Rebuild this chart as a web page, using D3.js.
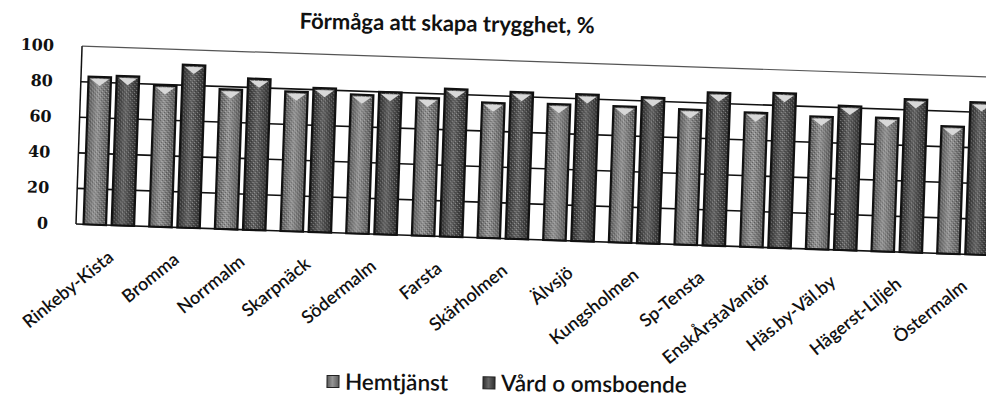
<!DOCTYPE html>
<html>
<head>
<meta charset="utf-8">
<script src="https://cdn.jsdelivr.net/npm/d3@7"></script>
<style>
  body { margin: 0; background: #fff; }
  text { fill: #111; }
</style>
</head>
<body>
<div id="chart"></div>
<script>
var width = 986;
var height = 400;

// chart data
var categories = ["Rinkeby-Kista", "Bromma", "Norrmalm", "Skarpnäck", "Södermalm", "Farsta", "Skärholmen",
  "Älvsjö", "Kungsholmen", "Sp-Tensta", "EnskÅrstaVantör", "Häs.by-Väl.by", "Hägerst-Liljeh", "Östermalm"];
var hemtjanst = [83, 79.5, 78.5, 78.5, 78, 77.5, 76, 76.5, 76.5, 76, 75.5, 74.5, 75, 71.5];
var vard = [84, 91.5, 85, 81, 80, 83, 82.5, 82.5, 82, 86, 87, 81, 86, 85.5];
var seriesNames = ["Hemtjänst", "Vård o omsboende"];
var yTicks = [0, 20, 40, 60, 80, 100];

var title = "Förmåga att skapa trygghet, %";

// plot frame (before the slight scan tilt)
var plotLeft = 76, plotBase = 224, plotTop = 46;
var step = 65.7;

var svg = d3.select("#chart")
  .append("svg")
  .attr("width", width)
  .attr("height", height);

var defs = svg.append("defs");

// bar fills: gray gradients, lighter for Hemtjänst
function barGradient(id, edge, mid) {
  var g = defs.append("linearGradient")
    .attr("id", id)
    .attr("x1", "0%").attr("x2", "100%")
    .attr("y1", "0%").attr("y2", "0%");
  g.append("stop").attr("offset", "0%").attr("stop-color", edge);
  g.append("stop").attr("offset", "45%").attr("stop-color", mid);
  g.append("stop").attr("offset", "100%").attr("stop-color", edge);
}
barGradient("g0", "#5a5a5a", "#959595");
barGradient("g1", "#2e2e2e", "#666");

// scan speckle
var speck = defs.append("pattern")
  .attr("id", "speck")
  .attr("width", 4).attr("height", 4)
  .attr("patternUnits", "userSpaceOnUse");
speck.append("rect").attr("x", 0).attr("y", 0).attr("width", 1).attr("height", 1).attr("fill", "#fff");
speck.append("rect").attr("x", 2).attr("y", 2).attr("width", 1).attr("height", 1).attr("fill", "#fff");
speck.append("rect").attr("x", 1).attr("y", 3).attr("width", 1).attr("height", 1).attr("fill", "#000");
speck.append("rect").attr("x", 3).attr("y", 1).attr("width", 1).attr("height", 1).attr("fill", "#000");

// scales
var x0 = d3.scaleBand()
  .domain(categories)
  .range([plotLeft, plotLeft + step * categories.length])
  .paddingInner(0.23)
  .paddingOuter(0.115);

var x1 = d3.scaleBand()
  .domain([0, 1])
  .range([0, x0.bandwidth()])
  .paddingInner(0.2);

var y = d3.scaleLinear()
  .domain([0, 100])
  .range([plotBase, plotTop]);

// title
svg.append("text")
  .attr("x", 447)
  .attr("y", 31)
  .attr("text-anchor", "middle")
  .attr("transform", "rotate(0.9,447,31)")
  .style("font-family", "Lato")
  .style("font-weight", "bold")
  .style("font-size", "22px")
  .text(title);

// everything in the plot is tilted a little, like the scanned page
var plot = svg.append("g")
  .attr("transform", "rotate(1.95," + plotLeft + "," + plotBase + ")");

// gridlines
plot.selectAll(".grid")
  .data(yTicks)
  .enter()
  .append("line")
  .attr("class", "grid")
  .attr("x1", plotLeft)
  .attr("x2", plotLeft + step * categories.length + 20)
  .attr("y1", function(d) { return y(d); })
  .attr("y2", function(d) { return y(d); })
  .style("stroke", function(d) { return d == 100 ? "#555" : "#111"; })
  .style("stroke-width", function(d) { return d == 100 ? 1.2 : 1.6; });

// left axis line
plot.append("line")
  .attr("x1", plotLeft).attr("x2", plotLeft)
  .attr("y1", y(100)).attr("y2", y(0))
  .style("stroke", "#111")
  .style("stroke-width", 1.5);

// y labels
plot.selectAll(".ylab")
  .data(yTicks)
  .enter()
  .append("text")
  .attr("class", "ylab")
  .attr("x", plotLeft - 28)
  .attr("y", function(d) { return y(d); })
  .attr("dy", "0.36em")
  .attr("text-anchor", "end")
  .style("font-family", "DejaVu Serif")
  .style("font-weight", "bold")
  .style("font-size", "16px")
  .text(function(d) { return d; });

// bars
var series = [hemtjanst, vard];
var groups = plot.selectAll(".cat")
  .data(categories)
  .enter()
  .append("g")
  .attr("class", "cat")
  .attr("transform", function(d) { return "translate(" + x0(d) + ",0)"; });

var bars = groups.selectAll(".bar")
  .data(function(d, i) { return [0, 1].map(function(s) { return { s: s, v: series[s][i] }; }); })
  .enter()
  .append("g")
  .attr("class", "bar");

bars.append("rect")
  .attr("x", function(d) { return x1(d.s); })
  .attr("y", function(d) { return y(d.v); })
  .attr("width", x1.bandwidth())
  .attr("height", function(d) { return y(0) - y(d.v); })
  .style("fill", function(d) { return "url(#g" + d.s + ")"; })
  .style("stroke", "#111")
  .style("stroke-width", 2.2);

bars.append("rect")
  .attr("x", function(d) { return x1(d.s) + 1; })
  .attr("y", function(d) { return y(d.v) + 1; })
  .attr("width", x1.bandwidth() - 2)
  .attr("height", function(d) { return y(0) - y(d.v) - 2; })
  .style("fill", "url(#speck)")
  .style("opacity", 0.35);

// bevel cap on top of each bar
bars.append("path")
  .attr("d", function(d) {
    var bx = x1(d.s), bw = x1.bandwidth(), ty = y(d.v);
    return "M" + (bx + 2) + "," + (ty + 2) + "L" + (bx + bw - 2) + "," + (ty + 2) +
      "L" + (bx + bw / 2) + "," + (ty + 9) + "Z";
  })
  .style("fill", "#d8d8d8");

// category labels
plot.selectAll(".xlab")
  .data(categories)
  .enter()
  .append("text")
  .attr("class", "xlab")
  .attr("text-anchor", "end")
  .attr("transform", function(d) {
    var cx = x0(d) + x0.bandwidth() / 2 + 7;
    return "translate(" + cx + "," + (plotBase + 34) + ") rotate(-41)";
  })
  .style("font-family", "Lato")
  .style("font-weight", "600")
  .style("font-size", "18px")
  .text(function(d) { return d; });

// legend
var legend = svg.append("g")
  .attr("transform", "rotate(0.5,500,383)");

var legendX = [327, 483];
var items = legend.selectAll(".leg")
  .data(seriesNames)
  .enter()
  .append("g")
  .attr("class", "leg")
  .attr("transform", function(d, i) { return "translate(" + legendX[i] + ",383)"; });

items.append("rect")
  .attr("x", 0).attr("y", -6)
  .attr("width", 12).attr("height", 12)
  .style("fill", function(d, i) { return "url(#g" + i + ")"; })
  .style("stroke", "#222")
  .style("stroke-width", 1);

items.append("text")
  .attr("x", 18)
  .attr("y", 0)
  .attr("dy", "0.36em")
  .style("font-family", "Lato")
  .style("font-weight", "600")
  .style("font-size", "22.5px")
  .text(function(d) { return d; });
</script>
</body>
</html>
